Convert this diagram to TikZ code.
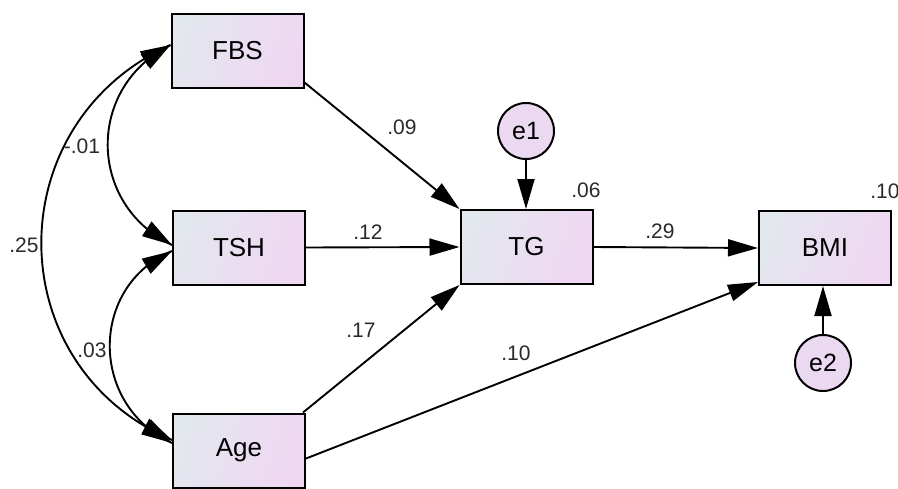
\documentclass[tikz,border=0pt]{standalone}
\usepackage{fontspec}
\setmainfont{Liberation Sans}
\usetikzlibrary{arrows.meta}
\definecolor{boxL}{HTML}{E3E7EE}
\definecolor{boxR}{HTML}{EFD7F2}
\definecolor{errfill}{HTML}{EAD9F1}
\definecolor{lab}{HTML}{2A2A2A}
\begin{document}
\begin{tikzpicture}[x=1pt,y=-1pt,
  obs/.style={draw=black, line width=2pt, left color=boxL, right color=boxR, shading angle=70,
    minimum width=132pt, minimum height=74pt, inner sep=0pt, font=\fontsize{26}{26}\selectfont},
  err/.style={draw=black, line width=2pt, circle, fill=errfill, minimum size=56pt, inner sep=0pt,
    font=\fontsize{25}{25}\selectfont},
  lbl/.style={text=lab, inner sep=0pt, font=\fontsize{21}{21}\selectfont},
  path/.style={draw=black, line width=1.9pt, -{Triangle[length=30pt,width=17pt]}},
  covline/.style={draw=black, line width=1.9pt},
  tip/.style={draw=black, line width=1.9pt, -{Triangle[length=30pt,width=17pt]}}
]
\useasboundingbox (0,0) rectangle (898,488);

\node[obs] (FBS) at (237.5,50.5) {FBS};
\node[obs] (TSH) at (239,247.5) {TSH};
\node[obs] (Age) at (239,450.5) {Age};
\node[obs] (TG)  at (526.5,247) {TG};
\node[obs] (BMI) at (825,248) {BMI};
\node[err] (e1) at (526,131) {e1};
\node[err] (e2) at (823,363) {e2};

% end points of the covariance arcs
\coordinate (fA) at ([yshift=5.5pt]FBS.west);
\coordinate (tA) at ([yshift=2.5pt]TSH.west);
\coordinate (tB) at ([yshift=-3.5pt]TSH.west);
\coordinate (aA) at ([yshift=10.5pt]Age.west);
\coordinate (aB) at ([yshift=7.5pt]Age.west);

% covariances (arcs), tips drawn separately so the arcs keep their shape
\draw[covline] (fA) .. controls (86,87) and (87,204) .. (tA)
  coordinate[pos=0.11] (c1s) coordinate[pos=0.89] (c1e);
\draw[covline] (fA) .. controls (-2,123) and (-2,365) .. (aA)
  coordinate[pos=0.055] (c2s) coordinate[pos=0.945] (c2e);
\draw[covline] (tB) .. controls (89,286) and (89,405) .. (aB)
  coordinate[pos=0.11] (c3s) coordinate[pos=0.89] (c3e);
\draw[tip] (c1s) -- (fA);
\draw[tip] (c1e) -- (tA);
\draw[tip] (c2s) -- (fA);
\draw[tip] (c2e) -- (aA);
\draw[tip] (c3s) -- (tB);
\draw[tip] (c3e) -- (aB);

% regression paths
\draw[path] ([yshift=6pt]FBS.south east) -- (TG.north west);
\draw[path] (TSH.east) -- (TG.west);
\draw[path] ([xshift=-3pt]Age.north east) -- (TG.south west);
\draw[path] (TG.east) -- (BMI.west);
\draw[path] ([yshift=-8pt]Age.east) -- ([yshift=4pt]BMI.south west);
\draw[path] (e1.south) -- (e1.south |- TG.north);
\draw[path] (e2.north) -- (e2.north |- BMI.south);

% labels
\node[lbl] (l1) at (82,146) {-.01};
\node[lbl] (l2) at (24,245) {.25};
\node[lbl] (l3) at (92,350) {.03};
\node[lbl] (l4) at (402,127) {.09};
\node[lbl] (l5) at (368,232) {.12};
\node[lbl] (l6) at (361,330) {.17};
\node[lbl] (l7) at (586,190) {.06};
\node[lbl] (l8) at (660,231) {.29};
\node[lbl] (l9) at (516,353) {.10};
\node[lbl] (l10) at (885,191) {.10};
\end{tikzpicture}
\end{document}
